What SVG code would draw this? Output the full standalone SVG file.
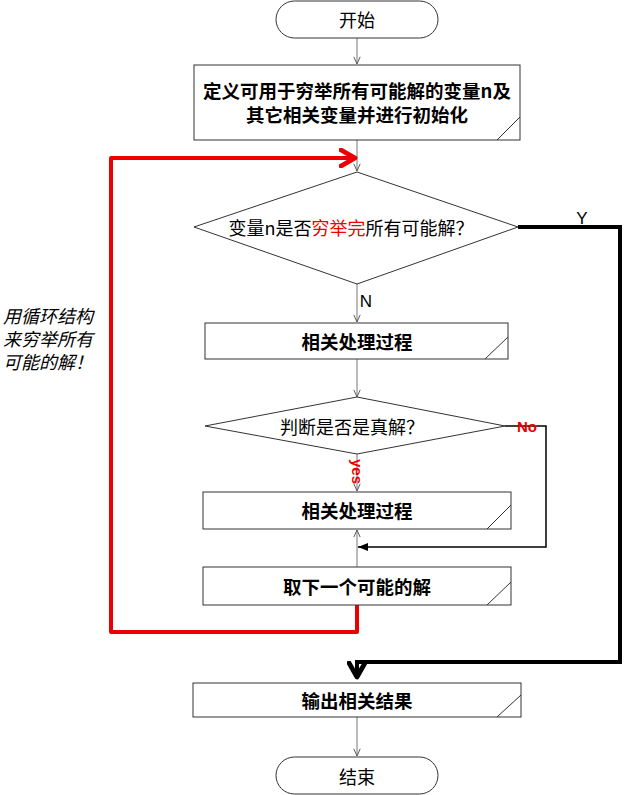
<svg xmlns="http://www.w3.org/2000/svg" width="624" height="795" viewBox="0 0 624 795">
<defs>
<style>
text{font-family:"Noto Sans CJK SC","Liberation Sans",sans-serif;fill:#000;text-anchor:middle;dominant-baseline:central}
.t{font-size:18px}
.b{font-size:18.5px;font-weight:bold}
.d{font-size:18px}
.shape{fill:#fff;stroke:#333;stroke-width:1}
.notch{fill:none;stroke:#333;stroke-width:1}
.thin{fill:none;stroke:#777;stroke-width:1}
.red{fill:none;stroke:#e00;stroke-width:4;stroke-linejoin:round}
.blk{fill:none;stroke:#000;stroke-width:4}
.blk1{fill:none;stroke:#000;stroke-width:1.5}
.lbl{font-family:"Liberation Sans",sans-serif;font-size:17px}
.redlbl{font-family:"Liberation Sans",sans-serif;font-size:15px;font-weight:bold;fill:#e00}
.vert{text-anchor:start;writing-mode:vertical-rl;text-orientation:sideways}
.note{font-size:18px;font-style:italic;text-anchor:start}
</style>
<marker id="open" viewBox="0 0 10 10" refX="10" refY="5" markerWidth="8" markerHeight="8" markerUnits="userSpaceOnUse" orient="auto">
<path d="M1,1 L10,5 L1,9" fill="none" stroke="#555" stroke-width="1.2"/>
</marker>
<marker id="redarr" viewBox="0 0 10 10" refX="8" refY="5" markerWidth="5" markerHeight="5" orient="auto">
<path d="M1,1 L8,5 L1,9" fill="none" stroke="#e00" stroke-width="2.4" stroke-linecap="round" stroke-linejoin="round"/>
</marker>
<marker id="blkarr" viewBox="0 0 10 10" refX="8" refY="5" markerWidth="5" markerHeight="5" orient="auto">
<path d="M1,1 L8,5 L1,9" fill="none" stroke="#000" stroke-width="2.4" stroke-linecap="round" stroke-linejoin="round"/>
</marker>
<marker id="tri" viewBox="0 0 10 10" refX="10" refY="5" markerWidth="10" markerHeight="10" markerUnits="userSpaceOnUse" orient="auto">
<path d="M0,1 L10,5 L0,9 Z" fill="#000"/>
</marker>
</defs>
<rect width="624" height="795" fill="#fff"/>

<g id="connectors">
<path class="thin" d="M357,38 V64" marker-end="url(#open)"/>
<path class="thin" d="M357,140 V171" marker-end="url(#open)"/>
<path class="thin" d="M357,284 V322" marker-end="url(#open)"/>
<path class="thin" d="M357,359 V397" marker-end="url(#open)"/>
<path class="thin" d="M357,454 V491" marker-end="url(#open)"/>
<path class="thin" d="M357,567 V530" marker-end="url(#open)"/>
<path class="blk1" d="M505,426 H546 V547 H358" marker-end="url(#tri)"/>
<path class="red" d="M357,605 V632 H111 V158 H355" marker-end="url(#redarr)"/>
<path class="blk" d="M518,227 H620 V662 H357 V677" marker-end="url(#blkarr)"/>
<path class="thin" d="M357,717 V756" marker-end="url(#open)"/>
<text class="lbl" x="582" y="218">Y</text>
<text class="lbl" x="366" y="301">N</text>
<text class="redlbl" x="527" y="426">No</text>
<text class="redlbl vert" x="357" y="459">yes</text>
</g>

<g id="start">
<rect class="shape" x="276" y="1" width="162" height="37" rx="18.5"/>
<text class="t" x="357" y="19">开始</text>
</g>

<g id="init">
<rect class="shape" x="194" y="65" width="326" height="75"/>
<path class="notch" d="M497,140 L520,117"/>
<text class="b"><tspan x="357" y="90">定义可用于穷举所有可能解的变量n及</tspan><tspan x="357" y="114">其它相关变量并进行初始化</tspan></text>
</g>

<g id="check1">
<path class="shape" d="M357,172 L518,227 L357,284 L194,227 Z"/>
<text class="d" x="351" y="227">变量n是否<tspan fill="#e00">穷举完</tspan>所有可能解？</text>
</g>

<g id="process1">
<rect class="shape" x="205" y="323" width="303" height="36"/>
<path class="notch" d="M485,359 L508,337"/>
<text class="b" x="357" y="341">相关处理过程</text>
</g>

<g id="check2">
<path class="shape" d="M357,397 L505,426 L357,454 L205,426 Z"/>
<text class="d" x="352" y="426">判断是否是真解？</text>
</g>

<g id="process2">
<rect class="shape" x="203" y="492" width="308" height="37"/>
<path class="notch" d="M487,529 L511,505"/>
<text class="b" x="357" y="510">相关处理过程</text>
</g>

<g id="next">
<rect class="shape" x="203" y="567" width="308" height="38"/>
<path class="notch" d="M487,605 L511,582"/>
<text class="b" x="357" y="586">取下一个可能的解</text>
</g>

<g id="output">
<rect class="shape" x="193" y="683" width="328" height="34"/>
<path class="notch" d="M497,717 L521,695"/>
<text class="b" x="357" y="700">输出相关结果</text>
</g>

<g id="end">
<rect class="shape" x="276" y="757" width="162" height="37" rx="18.5"/>
<text class="t" x="357" y="776">结束</text>
</g>

<g id="note">
<text class="note"><tspan x="3" y="315">用循环结构</tspan><tspan x="3" y="338">来穷举所有</tspan><tspan x="3" y="361">可能的解！</tspan></text>
</g>
</svg>
